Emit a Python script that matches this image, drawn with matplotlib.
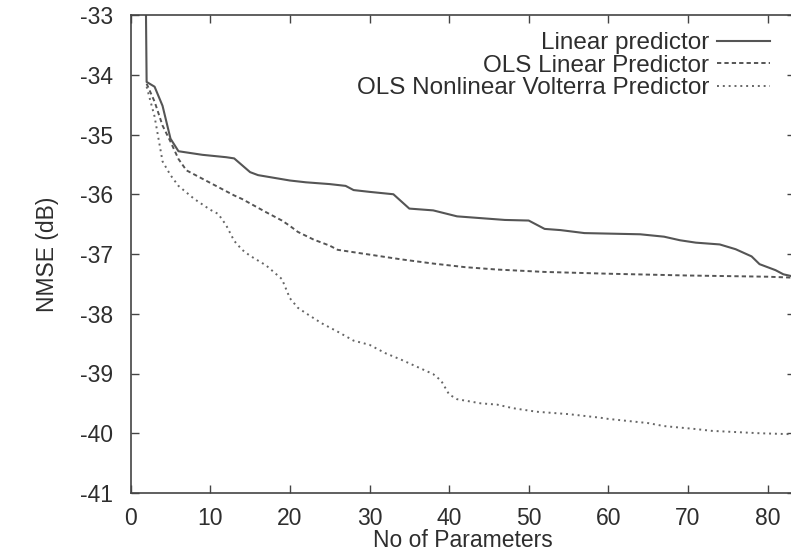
import matplotlib
matplotlib.use("Agg")
import matplotlib.pyplot as plt

plt.rcParams['font.family'] = ['Liberation Sans', 'DejaVu Sans']
plt.rcParams['axes.unicode_minus'] = False

# Data
lin_x = [1, 2, 3, 4, 5, 6, 9, 12, 13, 15, 16, 20, 22, 25, 27, 28, 30, 33, 35, 38, 41, 45, 47, 50,
         52, 54, 57, 64, 67, 69, 71, 74, 76, 78, 79, 81, 82, 84]
lin_y = [-20.0, -34.12, -34.2, -34.52, -35.07, -35.28, -35.34, -35.38, -35.40, -35.63, -35.68, -35.77,
         -35.80, -35.83, -35.86, -35.93, -35.96, -36.0, -36.24, -36.27, -36.37, -36.41, -36.43, -36.44,
         -36.58, -36.60, -36.65, -36.67, -36.71, -36.77, -36.81, -36.84, -36.92, -37.04, -37.17, -37.27,
         -37.34, -37.40]

ols_x = [2, 3, 4, 5, 6, 7, 8, 11, 13, 14, 17, 19, 20, 21, 23, 25, 26, 30, 34, 38, 42, 46, 52, 60,
         70, 80, 84]
ols_y = [-34.15, -34.45, -34.85, -35.12, -35.41, -35.6, -35.67, -35.88, -36.02, -36.08, -36.3, -36.44,
         -36.53, -36.63, -36.76, -36.86, -36.93, -37.01, -37.09, -37.16, -37.22, -37.26, -37.3, -37.33,
         -37.36, -37.38, -37.40]

vol_x = [2, 3, 4, 5, 6, 8, 10, 11, 12, 13, 14, 15, 17, 19, 20, 21, 22, 24, 26, 28, 30, 32, 34, 36,
         38, 39, 40, 41, 44, 46, 48, 51, 55, 59, 60, 65, 67, 71, 73, 79, 84]
vol_y = [-34.2, -34.7, -35.45, -35.68, -35.86, -36.08, -36.26, -36.33, -36.52, -36.78, -36.93, -37.03,
         -37.19, -37.42, -37.74, -37.9, -37.99, -38.16, -38.3, -38.45, -38.52, -38.66, -38.77, -38.89,
         -39.01, -39.12, -39.35, -39.43, -39.5, -39.52, -39.58, -39.64, -39.68, -39.74, -39.76, -39.83,
         -39.88, -39.93, -39.96, -40.0, -40.02]

labels = ["Linear predictor", "OLS Linear Predictor", "OLS Nonlinear Volterra Predictor"]
x_ticks = [0, 10, 20, 30, 40, 50, 60, 70, 80]
y_ticks = [-41, -40, -39, -38, -37, -36, -35, -34, -33]

W, H = 791, 557
ax_w_px = 83.5 * 7.96
fig = plt.figure(figsize=(W / 100, H / 100), dpi=100)
ax = fig.add_axes([130.7 / W, (H - 493) / H, ax_w_px / W, 478 / H])

txt = '#2e2e2e'
line_c = '#555555'
ax.plot(lin_x, lin_y, color=line_c, lw=1.5, ls='-', label=labels[0])
ax.plot(ols_x, ols_y, color=line_c, lw=1.4, ls=(0, (2.2, 1.6)), label=labels[1])
ax.plot(vol_x, vol_y, color='#666666', lw=1.4, ls=(0, (1.0, 2.0)), label=labels[2])

ax.set_xlim(0, 83.5)
ax.set_ylim(-41, -33)
ax.set_xticks(x_ticks)
ax.set_yticks(y_ticks)
ax.tick_params(direction='in', length=6, width=1.0, color='#444444', labelsize=16.5,
               labelcolor=txt, top=True, right=True)
ax.tick_params(axis='x', pad=10)
ax.tick_params(axis='y', pad=13)
for s in ax.spines.values():
    s.set_color('#444444')
    s.set_linewidth(1.2)

ax.set_xlabel("No of Parameters", fontsize=16.5, color=txt)
ax.xaxis.set_label_coords(0.5, -0.075)
ax.set_ylabel("NMSE (dB)", fontsize=16.5, color=txt)
ax.yaxis.set_label_coords(-0.108, 0.5)

leg = ax.legend(loc='upper right', bbox_to_anchor=((770 - 130.7) / ax_w_px, (493 - 32) / 478),
                frameon=False, markerfirst=False, fontsize=17.5, handlelength=2.2,
                handletextpad=0.3, labelspacing=0.03, borderaxespad=0, borderpad=0)
for t in leg.get_texts():
    t.set_color(txt)

fig.savefig("out.png", dpi=100)
